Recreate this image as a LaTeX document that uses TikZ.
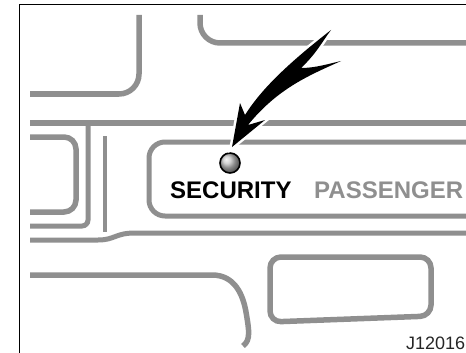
\documentclass[tikz,border=0pt]{standalone}
\usepackage{fontspec}
\setmainfont{Liberation Sans}
\usepackage{tikz}
\definecolor{panelgray}{gray}{0.56}
\tikzset{
  panel/.style={draw=panelgray,line width=5.5pt,line cap=butt,rounded corners=#1},
  panel/.default=0pt,
  legend/.style={font=\bfseries\fontsize{24}{24}\selectfont,anchor=base west,inner sep=0pt},
}
\begin{document}
\begin{tikzpicture}[x=1pt,y=-1pt]
  \useasboundingbox (0,0) rectangle (466,353);
  \draw[black,line width=1pt] (19.5,353) -- (19.5,5) -- (466,5);
  % dashboard outlines
  \draw[panel=20pt] (139,15) -- (139,94) -- (30,94);
  \draw[panel=20pt] (200,15) -- (200,43) -- (466,43);
  \draw[panel] (30,123) -- (466,123);
  \draw[panel=12pt] (30,137) -- (76,137) -- (76,212) -- (30,212);
  \draw[panel=6pt,line width=5pt] (88,123) -- (88,226) -- (30,226);
  \draw[panel,line width=3.5pt] (105,136) -- (105,232);
  \draw[panel=16pt,line width=5pt] (466,142) -- (149,142) -- (149,216) -- (466,216);
  \draw[panel,line width=5pt] (30,240) -- (98,240) .. controls (115,240) and (115,233) .. (135,233) -- (466,233);
  \draw[panel] (30,275) -- (212,275) .. controls (235,275) and (243,295) .. (246,312) .. controls (249,330) and (251,340) .. (243,346);
  \draw[panel=11pt] (270,257) -- (431,257) -- (431,316) -- (270,322) -- cycle;
  % indicator lamp
  \shade[ball color=gray!45!white] (230,163) circle (10pt);
  \draw[black,line width=1.6pt] (230,163) circle (10pt);
  % pointer
  \fill[black,preaction={draw=white,line width=5pt}]
    (232,147) -- (240,103) -- (245,115)
    .. controls (262,88) and (290,62) .. (331,30)
    .. controls (322,42) and (316,54) .. (301,68)
    .. controls (315,68) and (328,64) .. (341,61)
    .. controls (310,75) and (278,88) .. (248,125)
    -- (265,120) -- cycle;
  \node[legend] (security) at (170,198) {SECURITY};
  \node[legend,text=panelgray] (passenger) at (314,198) {PASSENGER};
  \node[font=\fontsize{18}{18}\selectfont,anchor=base west,inner sep=0pt,text=black!85] (code) at (406,349) {J12016};
\end{tikzpicture}
\end{document}
